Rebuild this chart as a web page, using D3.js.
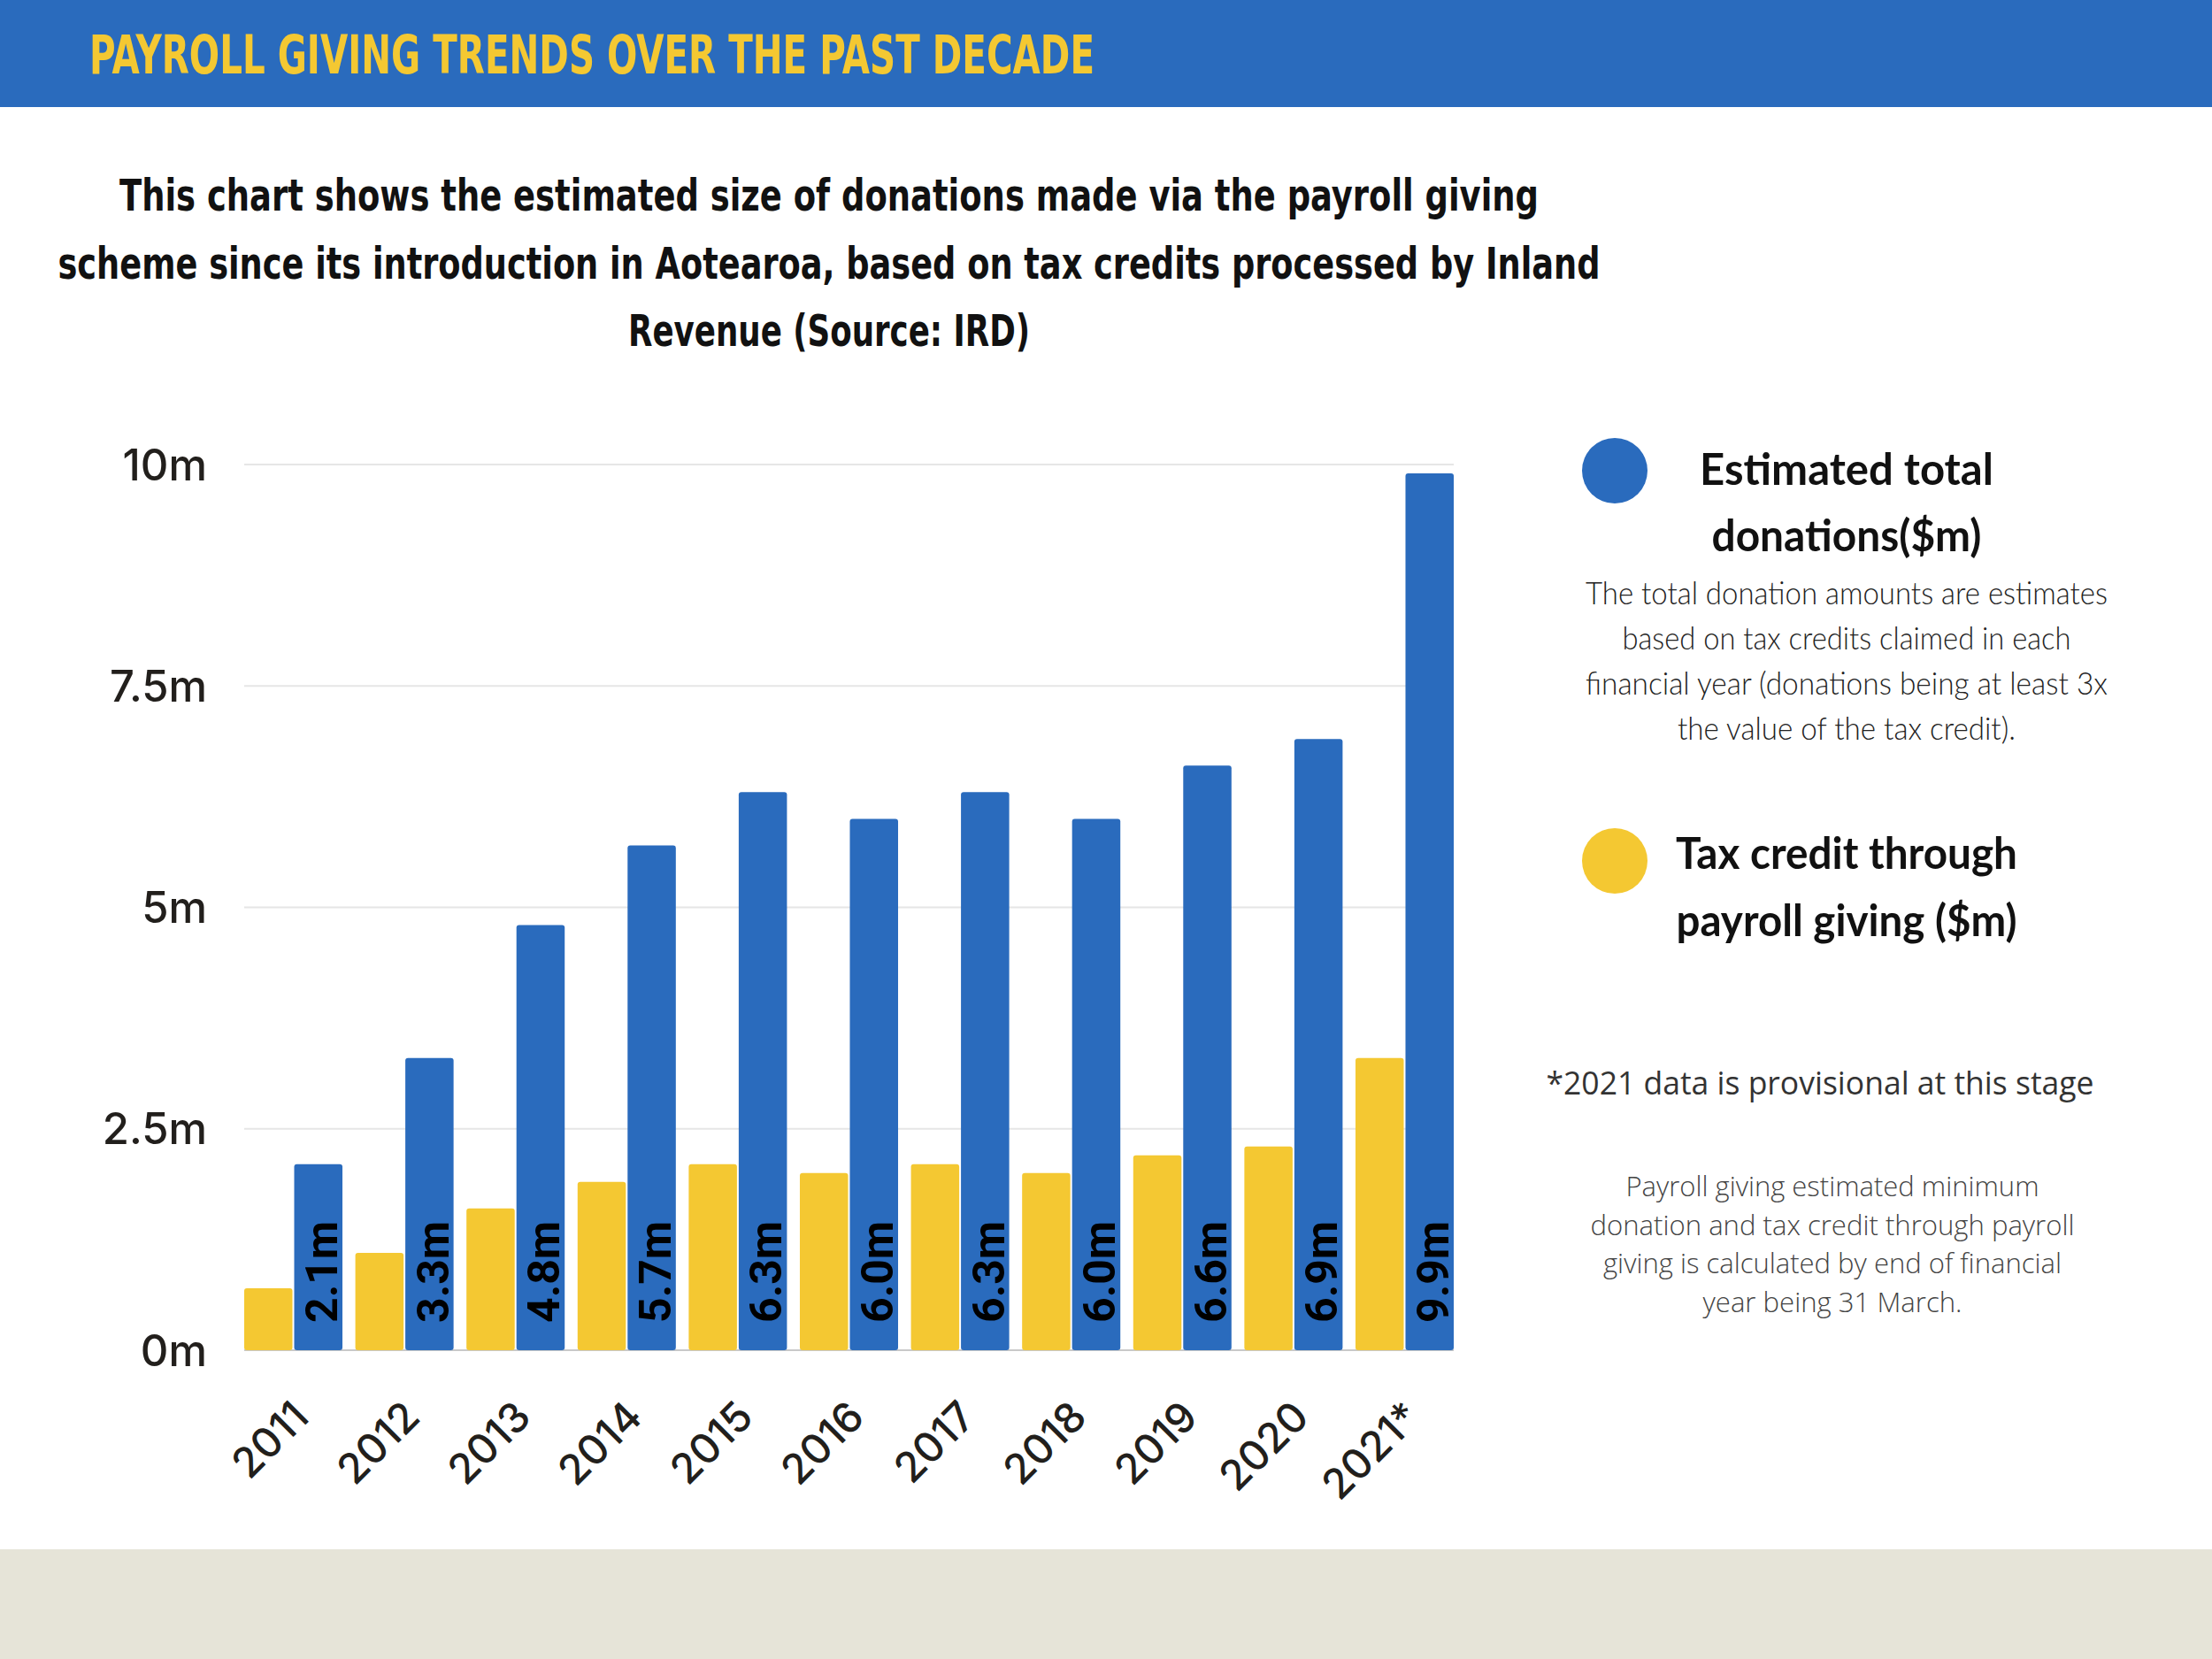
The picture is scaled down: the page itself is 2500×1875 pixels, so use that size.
<!DOCTYPE html>
<html>
<head>
<meta charset="utf-8">
<script src="https://cdn.jsdelivr.net/npm/d3@7"></script>
<style>
  html, body { margin: 0; padding: 0; background: #ffffff; }
  svg { display: block; }
</style>
</head>
<body>
<div id="chart"></div>
<script>
const years = ["2011", "2012", "2013", "2014", "2015", "2016", "2017", "2018", "2019", "2020", "2021*"]
const totalDonations = [2.1, 3.3, 4.8, 5.7, 6.3, 6.0, 6.3, 6.0, 6.6, 6.9, 9.9]
const taxCredits = [0.7, 1.1, 1.6, 1.9, 2.1, 2.0, 2.1, 2.0, 2.2, 2.3, 3.3]
const yTicks = [0, 2.5, 5, 7.5, 10]
const yTickLabels = ["0m", "2.5m", "5m", "7.5m", "10m"]

const titleText = "PAYROLL GIVING TRENDS OVER THE PAST DECADE"
const subtitleLines = [
  "This chart shows the estimated size of donations made via the payroll giving",
  "scheme since its introduction in Aotearoa, based on tax credits processed by Inland",
  "Revenue (Source: IRD)"
]
const totalLegendLines = ["Estimated total", "donations($m)"]
const totalNoteLines = [
  "The total donation amounts are estimates",
  "based on tax credits claimed in each",
  "financial year (donations being at least 3x",
  "the value of the tax credit)."
]
const taxLegendLines = ["Tax credit through", "payroll giving ($m)"]
const provisionalNote = "*2021 data is provisional at this stage"
const footNoteLines = [
  "Payroll giving estimated minimum",
  "donation and tax credit through payroll",
  "giving is calculated by end of financial",
  "year being 31 March."
]

const BLUE = "#2a6bbd"
const YELLOW = "#f4c832"

const width = 2500
const height = 1875

const svg = d3.select("#chart")
  .append("svg")
  .attr("width", width)
  .attr("height", height)

// header and footer bands
svg.append("rect")
  .attr("x", 0).attr("y", 0)
  .attr("width", width).attr("height", 121)
  .attr("fill", BLUE)

svg.append("rect")
  .attr("x", 0).attr("y", 1751)
  .attr("width", width).attr("height", height - 1751)
  .attr("fill", "#e6e4d8")

svg.append("text")
  .attr("x", 101)
  .attr("y", 83)
  .attr("textLength", 1136)
  .attr("lengthAdjust", "spacingAndGlyphs")
  .style("font-family", "'Liberation Sans Narrow', 'DejaVu Sans Condensed', sans-serif")
  .style("font-weight", "bold")
  .style("font-size", "60px")
  .attr("fill", YELLOW)
  .text(titleText)

const subtitleWidths = [1604, 1743, 454]
const subtitleBaselines = [238, 315, 391]
svg.append("g")
  .selectAll("text")
  .data(subtitleLines)
  .enter()
  .append("text")
  .attr("x", 937)
  .attr("y", (d, i) => subtitleBaselines[i])
  .attr("text-anchor", "middle")
  .attr("textLength", (d, i) => subtitleWidths[i])
  .attr("lengthAdjust", "spacingAndGlyphs")
  .style("font-family", "'Liberation Sans Narrow', 'DejaVu Sans Condensed', sans-serif")
  .style("font-weight", "bold")
  .style("font-size", "50px")
  .attr("fill", "#111")
  .text(d => d)

// chart
const x = d3.scaleBand()
  .domain(years)
  .range([276, 1643])
  .paddingInner(0.116)
  .paddingOuter(0)

const x1 = d3.scaleBand()
  .domain(["tax", "total"])
  .range([0, x.bandwidth()])
  .paddingInner(0.035)

const y = d3.scaleLinear()
  .domain([0, 10])
  .range([1526, 525])

const grid = svg.append("g")
grid.selectAll("line")
  .data(yTicks)
  .enter()
  .append("line")
  .attr("x1", 276)
  .attr("x2", 1643)
  .attr("y1", d => y(d))
  .attr("y2", d => y(d))
  .attr("stroke", d => d === 0 ? "#c9c9c9" : "#e6e6e6")
  .attr("stroke-width", 2)

grid.selectAll("text")
  .data(yTicks)
  .enter()
  .append("text")
  .attr("x", 234)
  .attr("y", d => y(d))
  .attr("dy", "0.36em")
  .attr("text-anchor", "end")
  .style("font-family", "Inter, 'Open Sans', sans-serif")
  .style("font-weight", 500)
  .style("font-size", "49px")
  .attr("fill", "#221f1c")
  .text((d, i) => yTickLabels[i])

const groups = svg.append("g")
  .selectAll("g")
  .data(years)
  .enter()
  .append("g")
  .attr("transform", d => `translate(${x(d)},0)`)

groups.append("rect")
  .attr("x", x1("tax"))
  .attr("y", (d, i) => y(taxCredits[i]))
  .attr("width", x1.bandwidth())
  .attr("height", (d, i) => y(0) - y(taxCredits[i]))
  .attr("rx", 3)
  .attr("fill", YELLOW)

groups.append("rect")
  .attr("x", x1("total"))
  .attr("y", (d, i) => y(totalDonations[i]))
  .attr("width", x1.bandwidth())
  .attr("height", (d, i) => y(0) - y(totalDonations[i]))
  .attr("rx", 3)
  .attr("fill", BLUE)

groups.append("text")
  .attr("transform", `translate(${x1("total") + x1.bandwidth() - 6},${y(0) - 31}) rotate(-90)`)
  .attr("text-anchor", "start")
  .style("font-family", "Roboto, 'Open Sans', sans-serif")
  .style("font-weight", "bold")
  .style("font-size", "50px")
  .attr("fill", "#000")
  .text((d, i) => totalDonations[i].toFixed(1) + "m")

groups.append("text")
  .attr("transform", `translate(${x.bandwidth() / 2 + 20},${y(0) + 78}) rotate(-45)`)
  .attr("text-anchor", "end")
  .style("font-family", "Inter, 'Open Sans', sans-serif")
  .style("font-weight", 500)
  .style("font-size", "47px")
  .attr("fill", "#221f1c")
  .text(d => d)

// legend
const legend = svg.append("g")

legend.append("circle")
  .attr("cx", 1825).attr("cy", 532).attr("r", 37)
  .attr("fill", BLUE)

legend.append("circle")
  .attr("cx", 1825).attr("cy", 973).attr("r", 37)
  .attr("fill", YELLOW)

const legendFont = "Lato, 'Noto Sans', sans-serif"

const addLines = (lines, cx, baselines, widths, size, weight, family, color) => {
  legend.append("g")
    .selectAll("text")
    .data(lines)
    .enter()
    .append("text")
    .attr("x", cx)
    .attr("y", (d, i) => baselines[i])
    .attr("text-anchor", "middle")
    .attr("textLength", (d, i) => widths[i])
    .attr("lengthAdjust", "spacingAndGlyphs")
    .style("font-family", family)
    .style("font-weight", weight)
    .style("font-size", size + "px")
    .attr("fill", color)
    .text(d => d)
}

addLines(totalLegendLines, 2087, [548, 623], [332, 305], 50, "bold", legendFont, "#111")
addLines(totalNoteLines, 2087, [683, 734, 785, 836], [590, 507, 590, 382], 36, 300, legendFont, "#222")
addLines(taxLegendLines, 2087, [982, 1058], [386, 385], 50, "bold", legendFont, "#111")
addLines([provisionalNote], 2057, [1237], [619], 37, "normal", "'Open Sans', sans-serif", "#333")
addLines(footNoteLines, 2071, [1352, 1396, 1439, 1483], [467, 547, 518, 293], 32, 300, "'Open Sans', sans-serif", "#444")
</script>
</body>
</html>
